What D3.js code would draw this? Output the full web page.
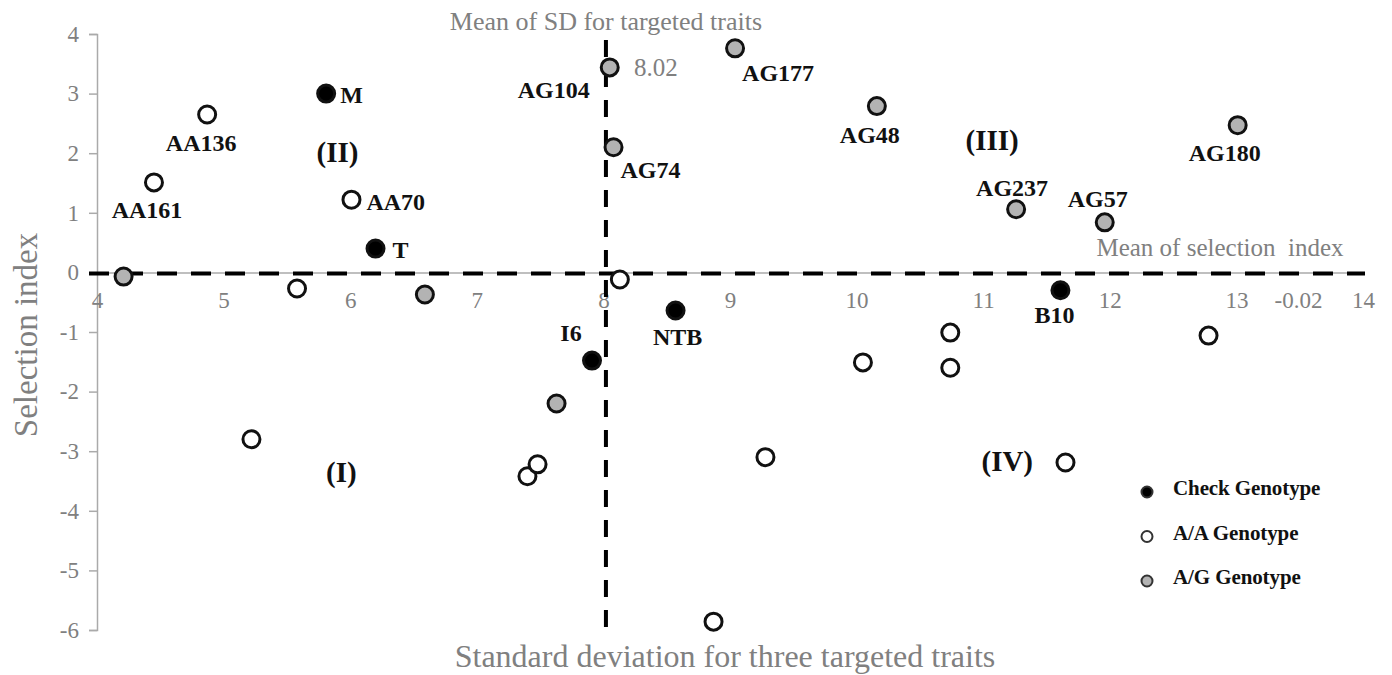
<!DOCTYPE html>
<html>
<head>
<meta charset="utf-8">
<script src="https://cdn.jsdelivr.net/npm/d3@7"></script>
<style>
  body { margin: 0; background: #fff; }
  text { font-family: "Liberation Serif", "Times New Roman", serif; }
</style>
</head>
<body>
<script>
// genotype data
var checkNames = ["M", "T", "I6", "NTB", "B10"];
var checkSD    = [5.81, 6.20, 7.91, 8.57, 11.61];
var checkSI    = [3.00, 0.40, -1.48, -0.64, -0.30];

var aaNames = ["AA136", "AA161", "AA70", "", "", "", "", "", "", "", "", "", "", "", ""];
var aaSD    = [4.87, 4.45, 6.01, 5.58, 8.13, 5.22, 7.40, 7.48, 9.28, 8.87, 10.05, 10.74, 10.74, 11.65, 12.78];
var aaSI    = [2.65, 1.51, 1.22, -0.27, -0.12, -2.80, -3.42, -3.22, -3.10, -5.86, -1.51, -1.01, -1.60, -3.19, -1.06];

var agNames = ["", "", "AG104", "AG74", "AG177", "AG48", "AG237", "AG57", "AG180", ""];
var agSD    = [4.21, 6.59, 8.05, 8.08, 9.04, 10.16, 11.26, 11.96, 13.01, 7.63];
var agSI    = [-0.07, -0.37, 3.44, 2.10, 3.76, 2.79, 1.06, 0.84, 2.47, -2.20];

var xTicks = [4, 5, 6, 7, 8, 9, 10, 11, 12, 13, 14];
var yTicks = [4, 3, 2, 1, 0, -1, -2, -3, -4, -5, -6];
var meanSD = 8.02, meanSI = -0.02;
var quadrants = [
  {label: "(I)",   sd: 5.93, si: -3.34},
  {label: "(II)",  sd: 5.90, si: 2.03},
  {label: "(III)", sd: 11.07, si: 2.23},
  {label: "(IV)",  sd: 11.19, si: -3.17}
];
var legendItems = ["Check Genotype", "A/A Genotype", "A/G Genotype"];

// label offsets in pixels (layout only)
var labelPos = {
  "M": [14, 1, "start"], "T": [17, 1, "start"], "I6": [-21, -28, "middle"], "NTB": [2, 26, "middle"],
  "B10": [-6, 24, "middle"], "AA136": [-6, 28, "middle"], "AA161": [-7, 27, "middle"],
  "AA70": [15, 2, "start"], "AG104": [-20, 22, "end"], "AG74": [7, 22, "start"],
  "AG177": [7, 24, "start"], "AG48": [-7, 28, "middle"], "AG237": [-4, -22, "middle"],
  "AG57": [-7, -24, "middle"], "AG180": [-13, 27, "middle"]
};

var W = 1392, H = 675;
var x = d3.scaleLinear().domain([4, 14]).range([97, 1363]);
var y = d3.scaleLinear().domain([-6, 4]).range([630, 34]);

var svg = d3.select("body").append("svg")
    .attr("width", W)
    .attr("height", H);

// y axis
var yAxis = svg.append("g")
    .attr("transform", "translate(" + x(4) + ",0)")
    .call(d3.axisLeft(y).tickValues(yTicks).tickSize(8).tickPadding(10)
      .tickFormat(function(d) { return String(d); }));
yAxis.select(".domain").attr("stroke", "#aaa").attr("stroke-width", 1.5);
yAxis.selectAll(".tick line").attr("stroke", "#aaa").attr("stroke-width", 1.5);
yAxis.selectAll(".tick text").attr("fill", "#808080").style("font-size", "23px");

// x axis along zero
var xAxis = svg.append("g")
    .attr("transform", "translate(0," + y(0) + ")")
    .call(d3.axisBottom(x).tickValues(xTicks).tickSize(0).tickPadding(19)
      .tickFormat(function(d) { return String(d); }));
xAxis.select(".domain").attr("stroke", "#aaa").attr("stroke-width", 1.5);
xAxis.selectAll(".tick text").attr("fill", "#808080").style("font-size", "23px");

// mean lines
svg.append("line")
    .attr("x1", x(4) - 8).attr("x2", x(14) + 2)
    .attr("y1", y(meanSI)).attr("y2", y(meanSI))
    .attr("stroke", "#000").attr("stroke-width", 4)
    .attr("stroke-dasharray", "20,14");
svg.append("line")
    .attr("x1", x(meanSD)).attr("x2", x(meanSD))
    .attr("y1", y(3.9)).attr("y2", y(-6))
    .attr("stroke", "#000").attr("stroke-width", 4)
    .attr("stroke-dasharray", "17,13");

// annotations
svg.append("text").attr("x", x(meanSD)).attr("y", 30).attr("text-anchor", "middle")
    .attr("fill", "#808080").style("font-size", "26px").text("Mean of SD for targeted traits");
svg.append("text").attr("x", x(meanSD) + 28).attr("y", 76)
    .attr("fill", "#808080").style("font-size", "25px").text("8.02");
svg.append("text").attr("x", 1220).attr("y", 256)
    .attr("text-anchor", "middle").attr("xml:space", "preserve")
    .attr("fill", "#808080").style("font-size", "25px").style("white-space", "pre")
    .text("Mean of selection  index");
svg.append("text").attr("x", x(13.49)).attr("y", y(0) + 19).attr("dy", "0.71em")
    .attr("text-anchor", "middle")
    .attr("fill", "#808080").style("font-size", "23px").text("-0.02");

// axis titles
svg.append("text").attr("transform", "translate(37," + y(-1.05) + ") rotate(-90)")
    .attr("text-anchor", "middle").attr("fill", "#808080").style("font-size", "33px")
    .text("Selection index");
svg.append("text").attr("x", 725).attr("y", 667).attr("text-anchor", "middle")
    .attr("fill", "#808080").style("font-size", "32px")
    .text("Standard deviation for three targeted traits");

// points
function series(names, sd, si, fill) {
  return sd.map(function(d, i) { return {name: names[i], sd: d, si: si[i], fill: fill}; });
}
var points = series(aaNames, aaSD, aaSI, "#fff")
  .concat(series(agNames, agSD, agSI, "#b3b3b3"))
  .concat(series(checkNames, checkSD, checkSI, "#000"));

svg.selectAll(".pt").data(points).enter().append("circle")
    .attr("class", "pt")
    .attr("cx", function(d) { return x(d.sd); })
    .attr("cy", function(d) { return y(d.si); })
    .attr("r", 8.5)
    .attr("fill", function(d) { return d.fill; })
    .attr("stroke", "#111").attr("stroke-width", 3);

svg.selectAll(".lbl").data(points.filter(function(d) { return d.name; })).enter().append("text")
    .attr("class", "lbl")
    .attr("x", function(d) { return x(d.sd) + labelPos[d.name][0]; })
    .attr("y", function(d) { return y(d.si) + labelPos[d.name][1]; })
    .attr("dy", "0.35em")
    .attr("text-anchor", function(d) { return labelPos[d.name][2]; })
    .attr("fill", "#111").style("font-size", "24px").style("font-weight", "bold")
    .text(function(d) { return d.name; });

svg.selectAll(".quad").data(quadrants).enter().append("text")
    .attr("class", "quad")
    .attr("x", function(d) { return x(d.sd); })
    .attr("y", function(d) { return y(d.si); })
    .attr("dy", "0.35em").attr("text-anchor", "middle")
    .attr("fill", "#111").style("font-size", "29px").style("font-weight", "bold")
    .text(function(d) { return d.label; });

// legend
var legendFill = ["#000", "#fff", "#b3b3b3"];
var legend = svg.selectAll(".leg").data(legendItems).enter().append("g")
    .attr("class", "leg")
    .attr("transform", function(d, i) { return "translate(1147," + (492 + i * 44.5) + ")"; });
legend.append("circle").attr("r", 5.5)
    .attr("fill", function(d, i) { return legendFill[i]; })
    .attr("stroke", "#333").attr("stroke-width", 2);
legend.append("text").attr("x", 26).attr("dy", "0.15em")
    .attr("fill", "#111").style("font-size", "21px").style("font-weight", "bold")
    .attr("letter-spacing", "-0.1px")
    .text(function(d) { return d; });
</script>
</body>
</html>
